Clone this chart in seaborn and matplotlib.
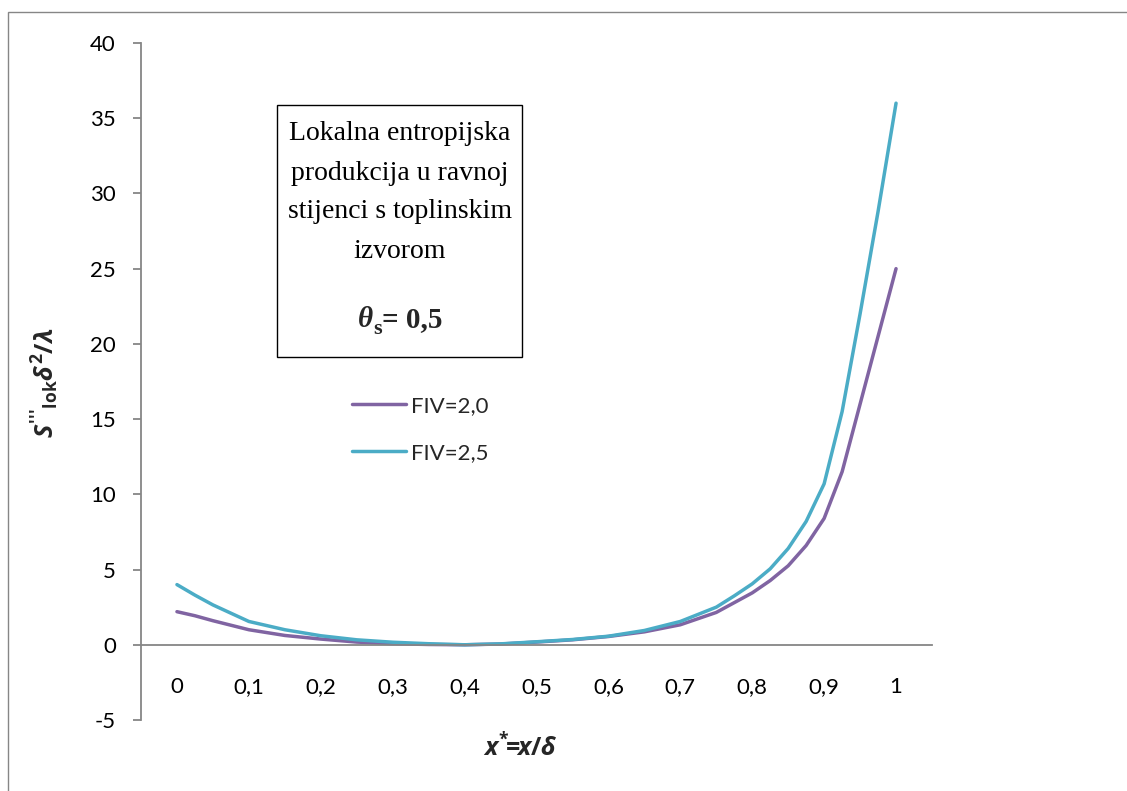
import matplotlib
matplotlib.use("Agg")
import matplotlib.pyplot as plt
import seaborn as sns
import pandas as pd
from matplotlib.patches import Rectangle

# ---------------- data ----------------
x_vals = [0.000, 0.025, 0.050, 0.100, 0.150, 0.200, 0.250, 0.300, 0.350, 0.400,
          0.450, 0.500, 0.550, 0.600, 0.650, 0.700, 0.750, 0.775, 0.800, 0.825,
          0.850, 0.875, 0.900, 0.925, 0.950, 0.975, 1.000]
fiv_20 = [2.2, 1.93, 1.6, 1.0, 0.62, 0.38, 0.18, 0.07, 0.02, 0.0,
          0.05, 0.18, 0.33, 0.55, 0.86, 1.33, 2.15, 2.8, 3.45, 4.27,
          5.25, 6.6, 8.4, 11.5, 16.0, 20.5, 25.0]
fiv_25 = [4.0, 3.3, 2.65, 1.55, 1.0, 0.6, 0.33, 0.17, 0.07, 0.0,
          0.06, 0.2, 0.35, 0.57, 0.95, 1.55, 2.5, 3.25, 4.05, 5.05,
          6.4, 8.2, 10.7, 15.5, 22.0, 28.8, 36.0]
series_names = ["FIV=2,0", "FIV=2,5"]
x_tick_values = [0.0, 0.1, 0.2, 0.3, 0.4, 0.5, 0.6, 0.7, 0.8, 0.9, 1.0]
x_tick_labels = ["0", "0,1", "0,2", "0,3", "0,4", "0,5", "0,6", "0,7", "0,8", "0,9", "1"]
y_ticks = [-5, 0, 5, 10, 15, 20, 25, 30, 35, 40]
box_lines = ["Lokalna entropijska", "produkcija u ravnoj", "stijenci s toplinskim", "izvorom"]

colors = ["#8064A2", "#4BACC6"]
axis_gray = "#868686"

sns.set_theme(style="white")
plt.rcParams["font.family"] = ["Lato", "DejaVu Sans"]
plt.rcParams["axes.unicode_minus"] = False
plt.rcParams["mathtext.fontset"] = "custom"
plt.rcParams["mathtext.it"] = "Open Sans:bold:italic"
plt.rcParams["mathtext.rm"] = "Open Sans:bold"
plt.rcParams["mathtext.bf"] = "Open Sans:bold"
plt.rcParams["mathtext.sf"] = "Open Sans:bold"

W, H = 1127, 791
def fx(px):
    return px / W
def fy(py):
    return 1 - py / H

fig = plt.figure(figsize=(W / 100, H / 100), dpi=100)
fig.patch.set_facecolor("white")

# outer chart-area border (cropped on right/bottom in the reference)
fig.patches.append(Rectangle((fx(8), fy(1200)), 2.0, fy(12) - fy(1200),
                             transform=fig.transFigure, fill=False,
                             edgecolor=axis_gray, linewidth=1.0))

ax = fig.add_axes([fx(141), fy(720), fx(932) - fx(141), fy(43) - fy(720)])

df = pd.DataFrame({
    "x": x_vals + x_vals,
    "y": fiv_20 + fiv_25,
    "serija": [series_names[0]] * len(x_vals) + [series_names[1]] * len(x_vals),
})
sns.lineplot(data=df, x="x", y="y", hue="serija", hue_order=series_names,
             palette=colors, linewidth=2.5, ax=ax, legend=True)
for ln in ax.lines:
    ln.set_solid_capstyle("round")
    ln.set_solid_joinstyle("round")

ax.set_xlim(-0.05, 1.05)
ax.set_ylim(-5, 40)
ax.set_xticks(x_tick_values)
ax.set_xticklabels(x_tick_labels)
ax.set_yticks(y_ticks)
ax.set_xlabel("")
ax.set_ylabel("")

for s in ["top", "right"]:
    ax.spines[s].set_visible(False)
ax.spines["bottom"].set_position(("data", 0))
ax.spines["bottom"].set_color(axis_gray)
ax.spines["left"].set_color(axis_gray)
ax.spines["bottom"].set_linewidth(1.3)
ax.spines["left"].set_linewidth(1.3)

ax.tick_params(axis="x", length=0, pad=23, labelsize=16, labelcolor="black")
ax.tick_params(axis="y", length=6, width=1.3, color=axis_gray, direction="out",
               pad=12, labelsize=16, labelcolor="black", left=True)

# legend
leg = ax.legend(loc="upper left", bbox_to_anchor=(fx(352), fy(396)),
                bbox_transform=fig.transFigure, frameon=False, fontsize=16,
                handlelength=2.45, handletextpad=0.2, labelspacing=1.22,
                borderpad=0, borderaxespad=0)
for h in leg.get_lines():
    h.set_linewidth(2.5)

# axis titles
fig.text(fx(520), fy(746), r"$x^{*}\!\!=\!\!x/\delta$", ha="center", va="center",
         fontsize=18)
fig.text(fx(45), fy(383), r"$S'''_{\mathrm{lok}}\delta^{\mathrm{2}}/\lambda$",
         ha="center", va="center", rotation=90, fontsize=18)

# text box
fig.patches.append(Rectangle((fx(277), fy(357)), fx(522) - fx(277), fy(105) - fy(357),
                             transform=fig.transFigure, fill=False,
                             edgecolor="black", linewidth=1.0))
for i, line in enumerate(box_lines):
    fig.text(fx(400), fy(134 + 39 * i), line, ha="center", va="center",
             fontsize=20, family="Liberation Serif", color="black")

t1 = fig.text(0, fy(327), "θ", ha="left", va="baseline", fontsize=21,
              family="Liberation Serif", weight="bold", style="italic")
t2 = fig.text(0, fy(334), "s", ha="left", va="baseline", fontsize=16,
              family="Liberation Serif", weight="bold")
t3 = fig.text(0, fy(327), "= 0,5", ha="left", va="baseline", fontsize=21,
              family="Liberation Serif", weight="bold")
fig.canvas.draw()
r = fig.canvas.get_renderer()
w1 = t1.get_window_extent(r).width
w2 = t2.get_window_extent(r).width
w3 = t3.get_window_extent(r).width
start = 400 - (w1 + w2 + w3) / 2
t1.set_x(fx(start))
t2.set_x(fx(start + w1))
t3.set_x(fx(start + w1 + w2))

fig.savefig("out.png", dpi=100, facecolor="white")
